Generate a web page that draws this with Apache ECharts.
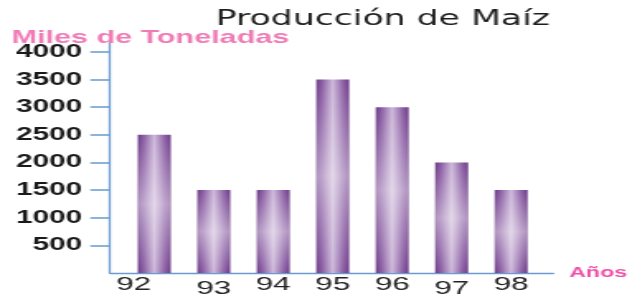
<!DOCTYPE html>
<html>
<head>
<meta charset="utf-8">
<script src="https://cdn.jsdelivr.net/npm/echarts@6/dist/echarts.min.js"></script>
<style>
  html, body { margin: 0; padding: 0; background: #fff; overflow: hidden; }
  /* el original está estirado a lo ancho, así que se dibuja estrecho y se escala */
  #chart { width: 383px; height: 299px; transform: scaleX(1.65); transform-origin: 0 0; }
</style>
</head>
<body>
<div id="chart"></div>
<script>
var years = ['92', '93', '94', '95', '96', '97', '98'];
var production = [2500, 1500, 1500, 3500, 3000, 2000, 1500];
var yTicks = [500, 1000, 1500, 2000, 2500, 3000, 3500, 4000];

var axisBlue = '#6a9bd0';
var labelFont = 'Liberation Sans, Arial, sans-serif';

var myChart = echarts.init(document.getElementById('chart'));

var option = {
  animation: false,
  title: [{
    text: 'Producción de Maíz',
    left: 232, top: 9, textAlign: 'center', padding: 0,
    textStyle: { fontFamily: 'DejaVu Sans', fontWeight: 'normal', fontSize: 21, color: '#1e1e1e' }
  }, {
    text: 'Miles de Toneladas',
    left: 7, top: 28, padding: 0,
    textStyle: { fontFamily: labelFont, fontWeight: 'bold', fontSize: 18.5, color: '#f07cb6' }
  }],
  grid: [
    { left: 66.7, right: 45.4, top: 42, bottom: 26 },  // ejes
    { left: 75.5, right: 55.2, top: 42, bottom: 26 }   // barras
  ],
  xAxis: [{
    gridIndex: 0,
    type: 'category',
    data: years,
    name: 'Años',
    nameLocation: 'end',
    nameGap: 9.7,
    nameTextStyle: { fontFamily: labelFont, fontWeight: 'bold', fontSize: 14, color: '#f04fa6' },
    axisLine: { lineStyle: { color: axisBlue, width: 1.4 } },
    axisTick: { show: false },
    axisLabel: { show: false }
  }, {
    gridIndex: 1,
    type: 'category',
    data: years,
    axisLine: { show: false },
    axisTick: { show: false },
    axisLabel: {
      interval: 0,
      margin: 2,
      formatter: function (v, i) {
        if (i === 0) return '{a|' + v + '}';
        if (i === 1 || i === 5) return '{b|' + v + '}';
        return '{c|' + v + '}';
      },
      rich: {
        a: { fontFamily: labelFont, fontSize: 19, color: '#222', padding: [0, 25, 0, 0] },
        b: { fontFamily: labelFont, fontSize: 19, color: '#222', padding: [4, 0, 0, 0] },
        c: { fontFamily: labelFont, fontSize: 19, color: '#222' }
      }
    }
  }],
  yAxis: [{
    gridIndex: 0,
    type: 'value',
    min: 0,
    max: 4180,
    splitLine: { show: false },
    axisLine: { show: true, lineStyle: { color: axisBlue, width: 1.3 } },
    axisTick: { show: true, length: 12, customValues: yTicks, lineStyle: { color: axisBlue, width: 1.5 } },
    axisLabel: {
      customValues: yTicks,
      margin: 17,
      formatter: function (v) { return String(v); },
      fontFamily: labelFont, fontWeight: 'bold', fontSize: 18, color: '#1a1a1a'
    }
  }, {
    gridIndex: 1,
    type: 'value',
    min: 0,
    max: 4180,
    show: false
  }],
  series: [{
    type: 'bar',
    xAxisIndex: 1,
    yAxisIndex: 1,
    data: production,
    barWidth: 20,
    itemStyle: {
      color: new echarts.graphic.LinearGradient(0, 0, 1, 0, [
        { offset: 0, color: '#6c3a87' },
        { offset: 0.18, color: '#8b5ea4' },
        { offset: 0.5, color: '#cdb8d9' },
        { offset: 0.82, color: '#8b5ea4' },
        { offset: 1, color: '#6c3a87' }
      ])
    }
  }, {
    // brillo central
    type: 'bar',
    xAxisIndex: 1,
    yAxisIndex: 1,
    data: production,
    barWidth: 20,
    barGap: '-100%',
    silent: true,
    itemStyle: {
      color: new echarts.graphic.LinearGradient(0, 0, 0, 1, [
        { offset: 0, color: 'rgba(255,255,255,0)' },
        { offset: 0.5, color: 'rgba(255,255,255,0.45)' },
        { offset: 1, color: 'rgba(255,255,255,0)' }
      ])
    }
  }]
};

myChart.setOption(option);
</script>
</body>
</html>
